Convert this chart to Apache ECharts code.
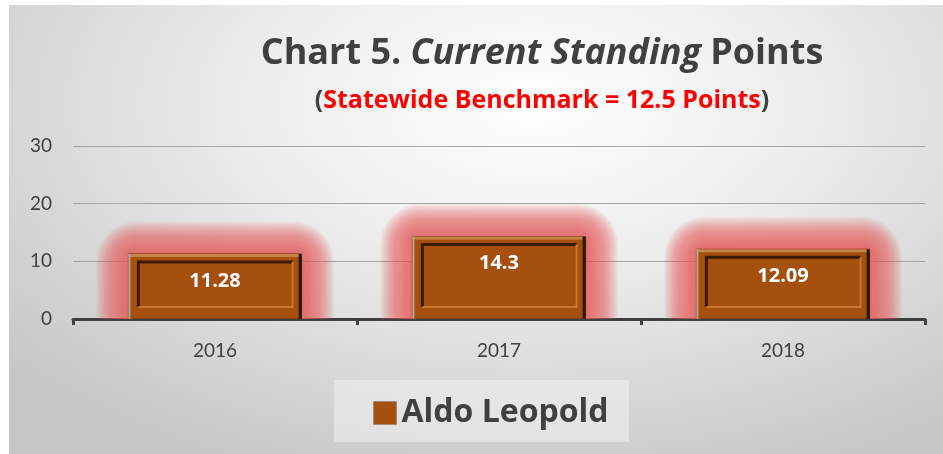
<!DOCTYPE html>
<html>
<head>
<meta charset="utf-8">
<script src="https://cdn.jsdelivr.net/npm/echarts@6/dist/echarts.min.js"></script>
<style>
  html, body { margin: 0; padding: 0; background: #fff; }
  #bg {
    position: absolute; left: 9px; top: 5px; width: 934px; height: 449px;
    background: radial-gradient(ellipse 75% 90% at 56% 22%, #ffffff 0%, #ededed 40%, #d6d6d6 75%, #c6c6c6 100%);
  }
  #main { position: absolute; left: 0; top: 0; width: 943px; height: 454px; }
</style>
</head>
<body>
<div id="bg"></div>
<div id="main"></div>
<script>
const years = ['2016', '2017', '2018'];
const points = [11.28, 14.3, 12.09];
const yTicks = [0, 10, 20, 30];

const chart = echarts.init(document.getElementById('main'));

const FONT = '"Open Sans", Lato, sans-serif';
const AXFONT = 'Lato, "Open Sans", sans-serif';
const BROWN = '#a5500f';

// soft red glow: stacked translucent rounded rects
function glow(x0, y0, w, h) {
  const out = [];
  for (let k = 16; k >= 1; k--) {
    const g = k * 2;
    out.push({
      type: 'rect',
      shape: { x: x0 - g, y: y0 - g, width: w + 2 * g, height: h + 2 * g, r: g + 8 },
      style: { fill: 'rgba(230,100,100,0.1)', shadowBlur: 6, shadowColor: 'rgba(230,100,100,0.1)' },
      silent: true
    });
  }
  return out;
}

function renderBar(params, api) {
  const top = api.coord([api.value(0), api.value(1)]);
  const base = api.coord([api.value(0), 0]);
  const w = api.size([1, 0])[0] * 0.61;
  const x0 = top[0] - w / 2;
  const y0 = top[1];
  const h = base[1] - top[1];
  const ix = x0 + 10, iy = y0 + 8, iw = w - 19, ih = h - 20;
  return {
    type: 'group',
    children: glow(x0, y0, w, h).concat([
      {
        type: 'rect',
        shape: { x: x0, y: y0, width: w, height: h },
        style: { fill: BROWN, stroke: '#6b3206', lineWidth: 1 }
      },
      { type: 'rect', shape: { x: x0, y: y0, width: w, height: 3 }, style: { fill: '#c98447' } },
      { type: 'rect', shape: { x: x0, y: y0, width: 2, height: h }, style: { fill: '#b9a99a' } },
      { type: 'rect', shape: { x: x0 + w - 3, y: y0, width: 3, height: h }, style: { fill: '#2a1404' } },
      {
        type: 'polyline',
        shape: { points: [[ix, iy + ih], [ix, iy], [ix + iw, iy]] },
        style: { stroke: '#3a1a05', lineWidth: 3, fill: null }
      },
      {
        type: 'polyline',
        shape: { points: [[ix, iy + ih], [ix + iw, iy + ih], [ix + iw, iy]] },
        style: { stroke: '#c77733', lineWidth: 2, fill: null }
      },
      {
        type: 'text',
        style: {
          x: top[0], y: y0 + 27, text: String(api.value(1)),
          fill: '#ffffff', font: 'bold 20px ' + FONT,
          align: 'center', verticalAlign: 'middle'
        }
      }
    ])
  };
}

const option = {
  animation: false,
  title: {
    text: '{n|Chart 5. }{i|Current Standing}{n| Points}',
    subtext: '{p|(}{r|Statewide Benchmark = 12.5 Points}{p|)}',
    left: 537,
    top: 31,
    textAlign: 'center',
    itemGap: 16,
    textStyle: {
      rich: {
        n: { fontFamily: FONT, fontWeight: 'bold', fontSize: 36, color: '#404040' },
        i: { fontFamily: FONT, fontWeight: 'bold', fontStyle: 'italic', fontSize: 36, color: '#404040' }
      }
    },
    subtextStyle: {
      rich: {
        p: { fontFamily: FONT, fontWeight: 'bold', fontSize: 25, color: '#404040' },
        r: { fontFamily: FONT, fontWeight: 'bold', fontSize: 25, color: '#ff0000' }
      }
    }
  },
  graphic: [
    {
      type: 'rect',
      shape: { x: 334, y: 380, width: 295, height: 62 },
      style: { fill: 'rgba(248,248,248,0.45)' },
      z: -1
    }
  ],
  legend: {
    data: ['Aldo Leopold'],
    left: 368,
    top: 392,
    icon: 'rect',
    itemWidth: 23,
    itemHeight: 23,
    itemGap: 4,
    itemStyle: { color: BROWN, borderColor: '#9a8a80', borderWidth: 1 },
    textStyle: { fontFamily: FONT, fontWeight: 'bold', fontSize: 32, color: '#404040' }
  },
  grid: { left: 73, right: 18, top: 146, bottom: 135 },
  xAxis: {
    type: 'category',
    data: years,
    axisLine: { lineStyle: { color: '#404040', width: 3 } },
    axisTick: { show: true, length: 6, lineStyle: { color: '#404040', width: 3 } },
    axisLabel: { fontFamily: AXFONT, fontSize: 19, color: '#404040', margin: 22 }
  },
  yAxis: {
    type: 'value',
    min: yTicks[0],
    max: yTicks[yTicks.length - 1],
    interval: 10,
    axisLine: { show: false },
    axisTick: { show: false },
    axisLabel: { fontFamily: AXFONT, fontSize: 19, color: '#404040', margin: 21 },
    splitLine: { lineStyle: { color: '#a6a6a6', width: 1 } }
  },
  series: [
    {
      name: 'Aldo Leopold',
      type: 'custom',
      renderItem: renderBar,
      clip: true,
      itemStyle: { color: BROWN },
      data: years.map((y, i) => [i, points[i]]),
      encode: { x: 0, y: 1 }
    }
  ]
};

chart.setOption(option);
</script>
</body>
</html>
